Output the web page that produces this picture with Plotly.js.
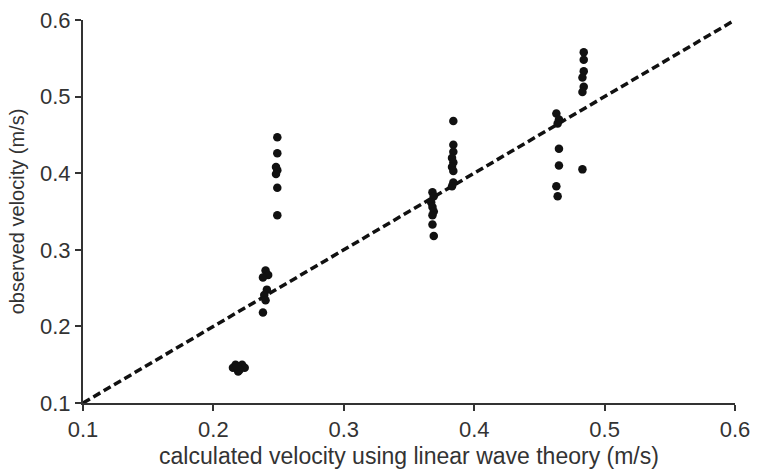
<!DOCTYPE html>
<html>
<head>
<meta charset="utf-8">
<script src="https://cdn.plot.ly/plotly-3.0.1.min.js"></script>
<style>html,body{margin:0;padding:0;background:#fff;}#chart{width:761px;height:470px;}</style>
</head>
<body>
<div id="chart"></div>
<script>
// observed data points: calculated (x) vs observed (y) velocity, m/s
var calcX = [
  0.217, 0.222, 0.215, 0.224, 0.219, 0.220, 0.218,
  0.240, 0.242, 0.238, 0.241, 0.239, 0.240, 0.238,
  0.249, 0.249, 0.248, 0.249, 0.248, 0.249, 0.249,
  0.368, 0.369, 0.367, 0.368, 0.369, 0.368, 0.368, 0.369,
  0.384, 0.384, 0.384, 0.383, 0.384, 0.383, 0.384, 0.384, 0.383,
  0.463, 0.465, 0.464, 0.465, 0.465, 0.463, 0.464,
  0.484, 0.484, 0.484, 0.483, 0.484, 0.483, 0.483
];
var obsY = [
  0.150, 0.150, 0.146, 0.146, 0.141, 0.143, 0.148,
  0.273, 0.267, 0.264, 0.248, 0.241, 0.234, 0.218,
  0.447, 0.426, 0.408, 0.404, 0.399, 0.381, 0.345,
  0.375, 0.370, 0.362, 0.356, 0.350, 0.345, 0.333, 0.318,
  0.468, 0.437, 0.428, 0.420, 0.414, 0.408, 0.403, 0.388, 0.383,
  0.478, 0.470, 0.465, 0.432, 0.410, 0.383, 0.370,
  0.558, 0.548, 0.533, 0.525, 0.513, 0.506, 0.405
];
// 1:1 reference line
var lineX = [0.1, 0.6];
var lineY = [0.1, 0.6];

var tickVals = [0.1, 0.2, 0.3, 0.4, 0.5, 0.6];
var tickText = ['0.1', '0.2', '0.3', '0.4', '0.5', '0.6'];

var traces = [
  {x: lineX, y: lineY, mode: 'lines', type: 'scatter',
   line: {color: '#111', width: 3.5, dash: '8px,4px'}, hoverinfo: 'skip'},
  {x: calcX, y: obsY, mode: 'markers', type: 'scatter',
   marker: {color: '#111', size: 8.5, line: {width: 0}}}
];

var fam = 'Liberation Sans, Arial, sans-serif';
var axisCommon = {
  range: [0.1, 0.6], tickvals: tickVals, ticktext: tickText,
  ticks: 'outside', ticklen: 6, tickwidth: 2, tickcolor: '#333',
  showline: true, linecolor: '#333', linewidth: 2,
  showgrid: false, zeroline: false,
  tickfont: {family: fam, size: 22, color: '#333'}
};

var layout = {
  width: 761, height: 470,
  margin: {l: 83, r: 26, t: 20, b: 67},
  paper_bgcolor: '#fff', plot_bgcolor: '#fff',
  showlegend: false,
  xaxis: Object.assign({}, axisCommon, {
    title: {text: 'calculated velocity using linear wave theory (m/s)', standoff: 6,
            font: {family: fam, size: 23, color: '#333'}}
  }),
  yaxis: Object.assign({}, axisCommon, {
    title: {text: 'observed velocity (m/s)', standoff: 10,
            font: {family: fam, size: 20, color: '#333'}}
  })
};

Plotly.newPlot('chart', traces, layout, {displayModeBar: false, staticPlot: true});
</script>
</body>
</html>
